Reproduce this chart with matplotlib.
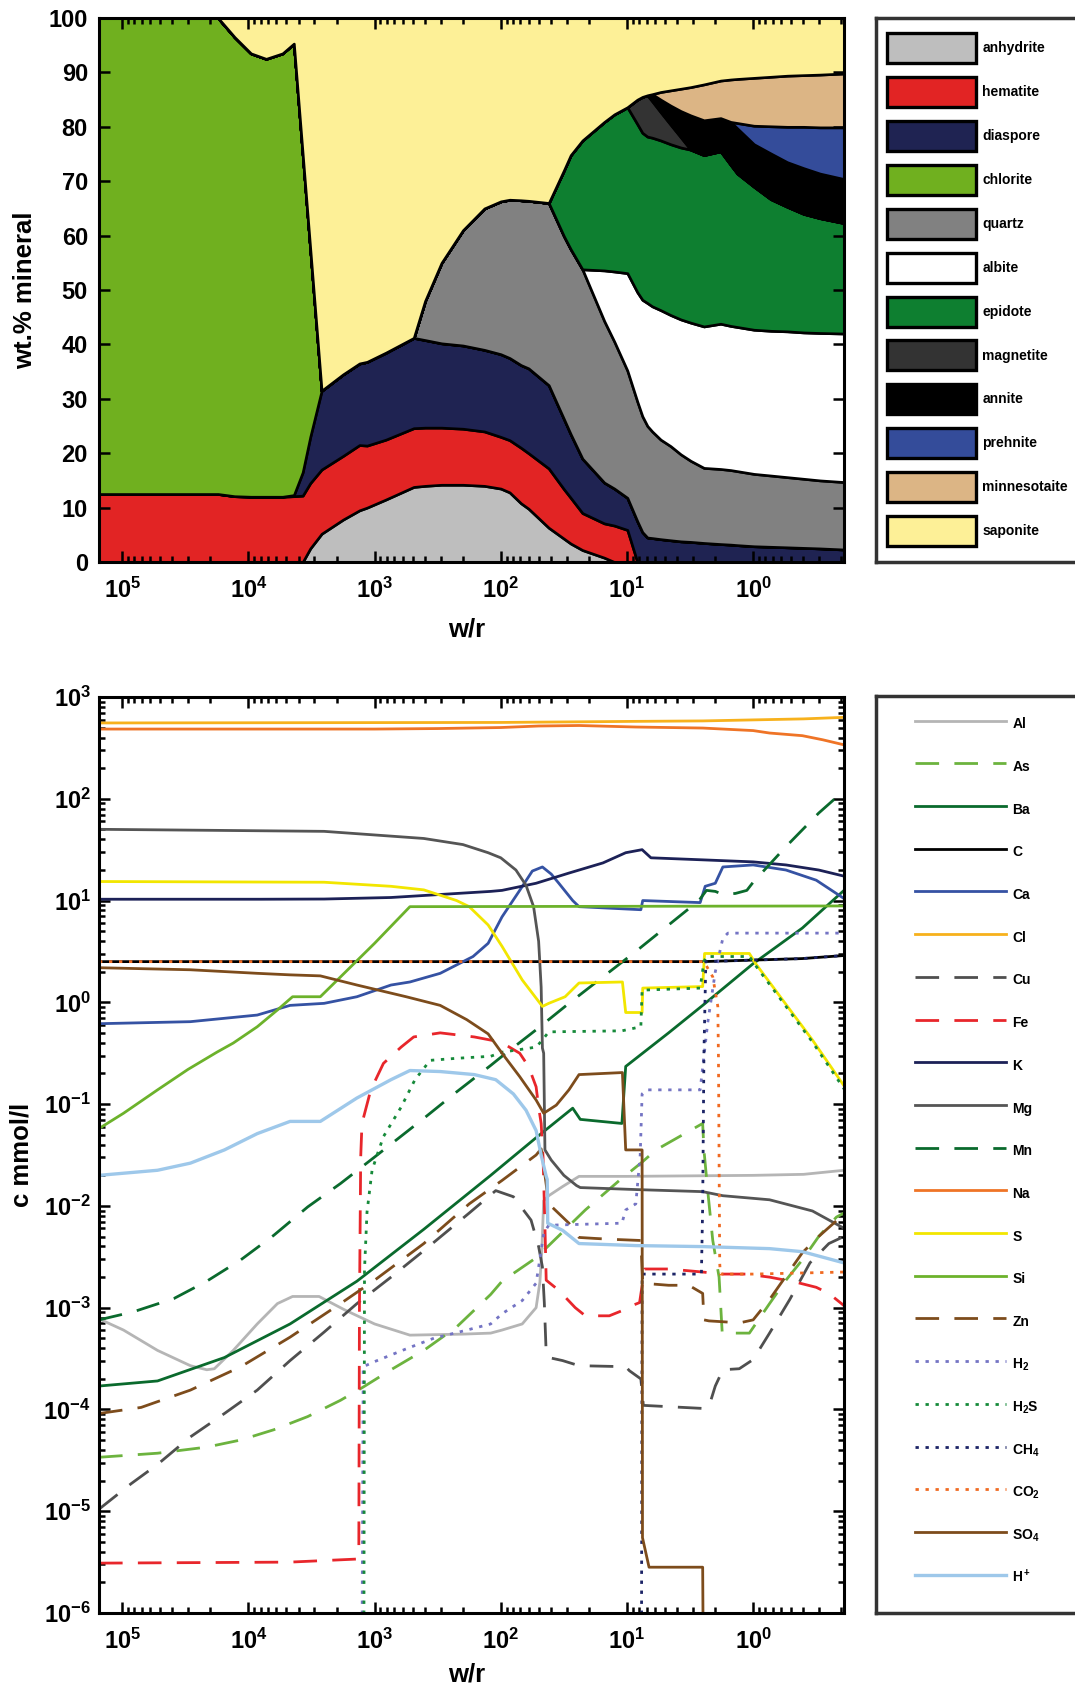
import numpy as np
import matplotlib
matplotlib.use("Agg")
import matplotlib.pyplot as plt
from matplotlib import font_manager
from matplotlib.font_manager import FontProperties
from matplotlib.patches import Patch
from matplotlib.ticker import LogLocator, NullLocator, NullFormatter, FuncFormatter


def find_family(names):
    for name in names:
        try:
            font_manager.findfont(FontProperties(family=name), fallback_to_default=False)
            return name
        except ValueError:
            continue
    return "DejaVu Sans"


NARROW = find_family(["Liberation Sans Narrow", "Liberation Sans"])
SANS = find_family(["Liberation Sans", "DejaVu Sans"])

plt.rcParams["font.family"] = [NARROW, "DejaVu Sans"]
plt.rcParams["font.weight"] = "bold"
plt.rcParams["mathtext.fontset"] = "custom"
plt.rcParams["mathtext.rm"] = SANS + ":bold"
plt.rcParams["mathtext.it"] = SANS + ":bold"
plt.rcParams["mathtext.bf"] = SANS + ":bold"
plt.rcParams["mathtext.sf"] = NARROW + ":bold"

# ---------------- minerals (upper edge of each stacked band, wt.%) ----------------
log_wr = [5.184, 4.24, 4.11, 3.98, 3.86, 3.73, 3.64, 3.57, 3.51, 3.42, 3.25, 3.12,
          3.06, 2.91, 2.69, 2.60, 2.47, 2.30, 2.13, 2.00, 1.93, 1.84, 1.78, 1.62,
          1.50, 1.446, 1.353, 1.18, 1.10, 0.997, 0.918, 0.878, 0.838, 0.80, 0.733,
          0.654, 0.574, 0.495, 0.39, 0.258, 0.178, 0.125, -0.006, -0.14, -0.27,
          -0.40, -0.53, -0.72]

top_anhydrite = [0, 0, 0, 0, 0, 0, 0, 0, 2.5, 5.2, 7.8, 9.5, 10.0, 11.5, 13.8, 14.0,
                 14.2, 14.2, 14.0, 13.5, 12.8, 10.8, 9.8, 6.3, 4.3, 3.4, 2.2, 0.8, 0.0,
                 0, 0, 0, 0, 0, 0, 0, 0, 0, 0, 0, 0, 0, 0, 0, 0, 0, 0, 0]
top_hematite = [12.5, 12.5, 12.1, 12.0, 12.0, 12.0, 12.1, 12.2, 14.5, 17.0, 19.5, 21.5,
                21.4, 22.5, 24.6, 24.7, 24.7, 24.5, 24.0, 23.0, 22.4, 21.0, 20.0, 17.2,
                13.4, 11.8, 9.0, 7.1, 6.7, 5.9, 0, 0, 0, 0, 0, 0, 0, 0, 0, 0, 0, 0, 0,
                0, 0, 0, 0, 0]
top_diaspore = [12.5, 12.5, 12.1, 12.0, 12.0, 12.0, 12.3, 16.5, 23.0, 31.5, 34.5, 36.5,
                36.8, 38.5, 41.2, 40.8, 40.2, 39.8, 39.0, 38.2, 37.5, 36.2, 35.6, 32.5,
                26.3, 23.5, 19.0, 14.6, 13.5, 11.8, 7.5, 5.5, 4.5, 4.4, 4.2, 4.0, 3.8,
                3.7, 3.5, 3.3, 3.2, 3.1, 2.9, 2.8, 2.7, 2.6, 2.5, 2.3]
top_chlorite = [100, 100, 96.5, 93.5, 92.5, 93.5, 95.3, 75.0, 57.6, 31.5, 34.5, 36.5,
                36.8, 38.5, 41.2, 40.8, 40.2, 39.8, 39.0, 38.2, 37.5, 36.2, 35.6, 32.5,
                26.3, 23.5, 19.0, 14.6, 13.5, 11.8, 7.5, 5.5, 4.5, 4.4, 4.2, 4.0, 3.8,
                3.7, 3.5, 3.3, 3.2, 3.1, 2.9, 2.8, 2.7, 2.6, 2.5, 2.3]
top_quartz = [100, 100, 96.5, 93.5, 92.5, 93.5, 95.3, 75.0, 57.6, 31.5, 34.5, 36.5,
              36.8, 38.5, 41.2, 48.0, 55.0, 61.0, 65.0, 66.3, 66.6, 66.5, 66.4, 66.0,
              59.9, 57.5, 53.8, 44.3, 40.5, 35.2, 29.5, 26.8, 25.0, 24.0, 22.5, 21.3,
              19.8, 18.6, 17.3, 17.1, 16.9, 16.7, 16.2, 15.9, 15.6, 15.3, 15.0, 14.7]
# upper edge shared by every band above quartz before epidote appears
front = [100, 100, 96.5, 93.5, 92.5, 93.5, 95.3, 75.0, 57.6, 31.5, 34.5, 36.5, 36.8,
         38.5, 41.2, 48.0, 55.0, 61.0, 65.0, 66.3, 66.6, 66.5, 66.4]
top_albite = front + [66.0, 59.9, 57.5, 53.8, 53.6, 53.4, 53.1, 49.6, 48.2, 47.6, 47.0,
                      46.3, 45.4, 44.6, 44.0, 43.3, 43.8, 43.4, 43.2, 42.7, 42.5, 42.4,
                      42.2, 42.1, 42.0]
top_epidote = front + [66.0, 72.0, 74.8, 77.5, 80.9, 82.3, 83.6, 80.5, 78.9, 78.2, 78.0,
                       77.5, 76.8, 76.2, 75.8, 74.8, 75.5, 73.0, 71.4, 69.0, 66.7, 65.3,
                       64.0, 63.2, 62.3]
top_magnetite = front + [66.0, 72.0, 74.8, 77.5, 80.9, 82.3, 83.6, 85.0, 85.5, 85.8,
                         84.7, 82.7, 80.4, 78.1, 75.8, 74.8, 75.5, 73.0, 71.4, 69.0,
                         66.7, 65.3, 64.0, 63.2, 62.3]
top_annite = front + [66.0, 72.0, 74.8, 77.5, 80.9, 82.3, 83.6, 85.0, 85.5, 85.8, 86.0,
                      85.0, 83.9, 82.9, 82.1, 81.2, 81.6, 80.9, 79.7, 76.8, 75.1, 73.5,
                      72.4, 71.4, 70.4]
top_prehnite = front + [66.0, 72.0, 74.8, 77.5, 80.9, 82.3, 83.6, 85.0, 85.5, 85.8, 86.0,
                        85.0, 83.9, 82.9, 82.1, 81.2, 81.6, 80.9, 80.7, 80.2, 80.1, 80.0,
                        80.0, 79.9, 79.9]
top_minnesotaite = front + [66.0, 72.0, 74.8, 77.5, 80.9, 82.3, 83.6, 85.0, 85.5, 85.8,
                            86.0, 86.4, 86.7, 87.0, 87.3, 87.8, 88.5, 88.7, 88.8, 89.0,
                            89.2, 89.4, 89.5, 89.6, 89.8]
top_saponite = [100] * len(log_wr)

minerals = ["anhydrite", "hematite", "diaspore", "chlorite", "quartz", "albite",
            "epidote", "magnetite", "annite", "prehnite", "minnesotaite", "saponite"]
mineral_colors = ["#bebebe", "#e22424", "#1f2352", "#70b01f", "#818181", "#ffffff",
                  "#0e7f30", "#333333", "#000000", "#344c9a", "#dcb585", "#fdf097"]

# ---------------- fluid composition (log10 w/r, log10 c in mmol/l) ----------------
al_x = [5.184, 4.99, 4.72, 4.46, 4.33, 4.27, 4.12, 3.93, 3.77, 3.65, 3.44, 3.24, 3.00,
        2.72, 2.30, 2.08, 1.99, 1.83, 1.72, 1.69, 1.675, 1.66, 1.62, 1.51, 1.38, 1.00,
        0.00, -0.40, -0.72]
al_y = [-3.11, -3.22, -3.42, -3.57, -3.61, -3.60, -3.42, -3.16, -2.96, -2.89, -2.89,
        -3.02, -3.16, -3.27, -3.26, -3.25, -3.22, -3.16, -3.00, -2.75, -2.45, -1.95,
        -1.90, -1.81, -1.71, -1.71, -1.70, -1.69, -1.65]
as_x = [5.184, 4.72, 4.33, 4.06, 3.80, 3.53, 3.27, 3.09, 2.87, 2.61, 2.35, 2.08, 1.99,
        1.72, 1.62, 1.33, 1.06, 0.88, 0.77, 0.40, 0.39, 0.36, 0.32, 0.27, 0.245, 0.03,
        -0.13, -0.26, -0.39, -0.52, -0.66, -0.72]
as_y = [-4.47, -4.43, -4.37, -4.30, -4.20, -4.07, -3.91, -3.78, -3.61, -3.42, -3.19,
        -2.87, -2.74, -2.51, -2.39, -2.04, -1.75, -1.57, -1.45, -1.19, -1.45, -1.85,
        -2.34, -2.70, -3.25, -3.25, -2.96, -2.73, -2.53, -2.30, -2.11, -2.07]
ba_x = [5.184, 4.72, 4.19, 3.67, 3.14, 2.61, 2.08, 1.72, 1.43, 1.37, 1.04, 1.01, 0.67,
        0.40, 0.00, -0.39, -0.72]
ba_y = [-3.77, -3.72, -3.49, -3.16, -2.74, -2.23, -1.70, -1.33, -1.04, -1.15, -1.19,
        -0.63, -0.30, -0.03, 0.38, 0.73, 1.10]
c_x = [5.184, 1.00, 0.40, 0.00, -0.39, -0.72]
c_y = [0.40, 0.40, 0.40, 0.415, 0.43, 0.46]
ca_x = [5.184, 4.46, 3.93, 3.67, 3.40, 3.14, 2.87, 2.72, 2.48, 2.22, 2.10, 1.99, 1.85,
        1.75, 1.67, 1.60, 1.54, 1.43, 1.38, 0.89, 0.875, 0.42, 0.38, 0.30, 0.24, 0.00,
        -0.26, -0.50, -0.72]
ca_y = [-0.21, -0.19, -0.125, -0.03, -0.01, 0.055, 0.17, 0.20, 0.285, 0.45, 0.58, 0.84,
        1.10, 1.29, 1.33, 1.26, 1.17, 1.00, 0.94, 0.91, 1.00, 0.98, 1.14, 1.17, 1.33,
        1.35, 1.30, 1.20, 1.02]
cl_x = [5.184, 2.0, 1.0, 0.4, 0.0, -0.4, -0.72]
cl_y = [2.745, 2.75, 2.76, 2.765, 2.775, 2.785, 2.80]
cu_x = [5.184, 4.93, 4.72, 4.46, 4.19, 3.93, 3.67, 3.40, 3.14, 2.87, 2.61, 2.25, 2.04,
        1.90, 1.76, 1.70, 1.67, 1.655, 1.64, 1.62, 1.51, 1.38, 1.01, 0.98, 0.89, 0.87,
        0.40, 0.35, 0.30, 0.24, 0.11, 0.00, -0.13, -0.29, -0.45, -0.60, -0.72]
cu_y = [-4.98, -4.73, -4.54, -4.27, -4.04, -3.81, -3.52, -3.24, -2.96, -2.70, -2.44,
        -2.07, -1.85, -1.91, -2.14, -2.40, -2.60, -2.95, -3.45, -3.49, -3.52, -3.57,
        -3.58, -3.62, -3.70, -3.96, -3.99, -3.97, -3.77, -3.61, -3.60, -3.51, -3.25,
        -2.92, -2.56, -2.37, -2.30]
fe_x = [5.184, 3.67, 3.14, 3.125, 3.12, 3.11, 3.10, 3.03, 2.93, 2.79, 2.69, 2.48, 2.21,
        2.00, 1.85, 1.78, 1.72, 1.70, 1.68, 1.665, 1.65, 1.64, 1.54, 1.41, 1.33, 1.14,
        1.04, 0.96, 0.90, 0.86, 0.67, 0.40, 0.24, 0.06, -0.13, -0.34, -0.50, -0.60, -0.72]
fe_y = [-5.51, -5.50, -5.47, -5.40, -3.00, -1.52, -1.19, -0.86, -0.60, -0.44, -0.34,
        -0.30, -0.34, -0.39, -0.50, -0.63, -0.83, -1.03, -1.19, -1.52, -2.20, -2.73,
        -2.83, -3.00, -3.08, -3.08, -3.03, -2.98, -2.95, -2.62, -2.62, -2.65, -2.67,
        -2.67, -2.70, -2.75, -2.80, -2.86, -2.98]
k_x = [5.184, 3.90, 3.40, 2.87, 2.08, 1.99, 1.72, 1.46, 1.19, 1.01, 0.88, 0.81, 0.40,
       0.00, -0.26, -0.52, -0.72]
k_y = [1.013, 1.013, 1.015, 1.03, 1.09, 1.10, 1.17, 1.27, 1.37, 1.47, 1.50, 1.42, 1.40,
       1.38, 1.35, 1.30, 1.24]
mg_x = [5.184, 3.40, 2.61, 2.30, 2.10, 2.00, 1.88, 1.80, 1.74, 1.70, 1.68, 1.67, 1.66,
        1.65, 1.60, 1.50, 1.40, 1.37, 0.92, 0.40, 0.24, -0.13, -0.47, -0.72]
mg_y = [1.70, 1.68, 1.61, 1.55, 1.47, 1.42, 1.30, 1.15, 0.94, 0.60, 0.15, -0.45, -0.50,
        -1.45, -1.55, -1.70, -1.80, -1.82, -1.84, -1.86, -1.90, -1.94, -2.05, -2.22]
mn_x = [5.184, 4.91, 4.59, 4.33, 4.06, 3.80, 3.53, 3.27, 3.00, 2.61, 2.35, 2.08, 1.99,
        1.72, 1.46, 1.19, 0.93, 0.67, 0.43, 0.37, 0.30, 0.24, 0.14, 0.05, 0.00, -0.26,
        -0.52, -0.72]
mn_y = [-3.12, -3.04, -2.91, -2.74, -2.53, -2.29, -2.01, -1.78, -1.52, -1.14, -0.88,
        -0.62, -0.53, -0.27, -0.01, 0.25, 0.50, 0.76, 1.00, 1.10, 1.09, 1.06, 1.07,
        1.10, 1.18, 1.53, 1.86, 2.08]
na_x = [5.184, 3.00, 2.50, 2.00, 1.70, 1.38, 0.93, 0.40, 0.00, -0.13, -0.39, -0.55, -0.72]
na_y = [2.685, 2.685, 2.69, 2.70, 2.715, 2.72, 2.705, 2.695, 2.67, 2.646, 2.62, 2.58, 2.53]
s_x = [5.184, 3.40, 2.87, 2.61, 2.35, 2.25, 2.10, 1.99, 1.83, 1.67, 1.62, 1.49, 1.38,
       1.036, 1.01, 0.88, 0.875, 0.40, 0.385, 0.03, -0.02, -0.47, -0.72]
s_y = [1.187, 1.18, 1.14, 1.105, 1.00, 0.94, 0.76, 0.55, 0.22, -0.04, -0.01, 0.055,
       0.19, 0.20, -0.10, -0.10, 0.14, 0.155, 0.48, 0.48, 0.38, -0.37, -0.82]
si_x = [5.184, 4.99, 4.72, 4.48, 4.25, 4.12, 3.93, 3.77, 3.65, 3.43, 3.27, 3.00, 2.72, -0.72]
si_y = [-1.24, -1.09, -0.86, -0.66, -0.49, -0.40, -0.24, -0.075, 0.055, 0.055, 0.25,
        0.58, 0.94, 0.947]
zn_x = [5.184, 4.85, 4.46, 4.06, 3.67, 3.27, 3.00, 2.61, 2.25, 1.99, 1.72, 1.68, 1.66,
        1.62, 1.46, 1.38, 1.25, 1.09, 0.89, 0.875, 0.67, 0.51, 0.40, 0.39, 0.35, 0.22,
        0.11, 0.00, -0.13, -0.26, -0.39, -0.52, -0.72]
zn_y = [-4.04, -3.98, -3.81, -3.58, -3.29, -2.96, -2.73, -2.37, -1.98, -1.75, -1.50,
        -1.44, -1.60, -1.98, -2.17, -2.31, -2.32, -2.33, -2.34, -2.76, -2.78, -2.78,
        -2.86, -3.12, -3.13, -3.14, -3.15, -3.12, -2.92, -2.69, -2.46, -2.30, -2.08]
h2_x = [3.10, 3.09, 3.00, 2.74, 2.53, 2.30, 2.08, 1.99, 1.83, 1.72, 1.68, 1.66, 1.62,
        1.04, 1.01, 0.93, 0.895, 0.88, 0.84, 0.42, 0.36, 0.30, 0.24, 0.20, -0.72]
h2_y = [-6.5, -3.58, -3.53, -3.40, -3.30, -3.23, -3.16, -3.06, -2.93, -2.76, -2.44,
        -2.27, -2.19, -2.17, -2.04, -1.98, -1.50, -0.90, -0.86, -0.86, -0.20, 0.30,
        0.63, 0.68, 0.68]
h2s_x = [3.085, 3.08, 3.06, 3.02, 2.98, 2.93, 2.79, 2.68, 2.56, 2.35, 2.08, 1.99, 1.72,
         1.67, 1.62, 1.04, 0.89, 0.88, 0.42, 0.39, 0.37, 0.03, -0.02, -0.47, -0.72]
h2s_y = [-6.5, -2.63, -2.06, -1.65, -1.50, -1.32, -1.03, -0.76, -0.57, -0.55, -0.53,
         -0.49, -0.44, -0.37, -0.29, -0.28, -0.24, 0.12, 0.14, 0.40, 0.45, 0.45, 0.36,
         -0.39, -0.85]
ch4_x = [0.885, 0.88, 0.41, 0.40, 0.39, 0.375, 0.00, -0.39, -0.72]
ch4_y = [-6.5, -2.67, -2.67, -2.00, -0.50, 0.40, 0.415, 0.43, 0.46]
co2_x = [5.184, 0.39, 0.32, 0.28, 0.275, 0.27, 0.265, 0.26, 0.00, -0.72]
co2_y = [0.40, 0.40, 0.25, -0.04, -0.53, -1.52, -2.56, -2.67, -2.67, -2.65]
so4_x = [5.184, 4.46, 3.93, 3.67, 3.43, 3.14, 2.75, 2.48, 2.27, 2.10, 1.99, 1.85, 1.72,
         1.66, 1.56, 1.46, 1.38, 1.036, 1.01, 0.88, 0.877, 0.825, 0.40, 0.395]
so4_y = [0.34, 0.32, 0.285, 0.27, 0.26, 0.17, 0.055, -0.03, -0.17, -0.31, -0.50, -0.73,
         -0.96, -1.09, -1.01, -0.86, -0.71, -0.69, -1.45, -1.45, -5.26, -5.55, -5.55, -6.5]
hplus_x = [5.184, 4.72, 4.46, 4.19, 3.93, 3.67, 3.43, 3.14, 2.87, 2.72, 2.48, 2.21, 2.04,
           1.90, 1.80, 1.72, 1.68, 1.64, 1.632, 1.628, 1.51, 1.38, 0.93, 0.40, -0.13,
           -0.39, -0.72]
hplus_y = [-1.70, -1.65, -1.58, -1.45, -1.29, -1.17, -1.17, -0.94, -0.76, -0.67, -0.68,
           -0.71, -0.76, -0.90, -1.06, -1.26, -1.50, -1.71, -1.74, -2.17, -2.24, -2.37,
           -2.39, -2.40, -2.42, -2.45, -2.56]

DASH = (0, (8.5, 5.5))
DOT = (0, (1.2, 2.4))
species = [
    ("Al", al_x, al_y, "#b5b5b5", "-"),
    ("As", as_x, as_y, "#6cb33e", DASH),
    ("Ba", ba_x, ba_y, "#0a6a2d", "-"),
    ("C", c_x, c_y, "#000000", "-"),
    ("Ca", ca_x, ca_y, "#3552a3", "-"),
    ("Cl", cl_x, cl_y, "#f7b11c", "-"),
    ("Cu", cu_x, cu_y, "#4f4f4f", DASH),
    ("Fe", fe_x, fe_y, "#e8262b", DASH),
    ("K", k_x, k_y, "#1c2157", "-"),
    ("Mg", mg_x, mg_y, "#555555", "-"),
    ("Mn", mn_x, mn_y, "#0a6a2d", DASH),
    ("Na", na_x, na_y, "#ef7426", "-"),
    ("S", s_x, s_y, "#f2e600", "-"),
    ("Si", si_x, si_y, "#6cb22b", "-"),
    ("Zn", zn_x, zn_y, "#7d4c1c", DASH),
    ("H$_2$", h2_x, h2_y, "#7474c4", DOT),
    ("H$_2$S", h2s_x, h2s_y, "#168a3a", DOT),
    ("CH$_4$", ch4_x, ch4_y, "#1c2466", DOT),
    ("CO$_2$", co2_x, co2_y, "#f06a22", DOT),
    ("SO$_4$", so4_x, so4_y, "#7d4c1c", "-"),
    ("H$^+$", hplus_x, hplus_y, "#9ec8ea", "-"),
]

# ---------------- layout ----------------
W, H = 1075, 1692
fig = plt.figure(figsize=(W / 100, H / 100), dpi=100)


def box(left, top, right, bottom):
    return [left / W, 1 - bottom / H, (right - left) / W, (bottom - top) / H]


ax_min = fig.add_axes(box(99, 18, 844, 562))
ax_sol = fig.add_axes(box(99, 697, 844, 1613))
leg_min = fig.add_axes(box(876, 18, 1095, 562))
leg_sol = fig.add_axes(box(876, 696, 1095, 1613))

XLIM = (10 ** 5.184, 10 ** -0.72)
TICK_SIZE = 17
LABEL_FONT = dict(family=SANS, weight="bold", size=18.5)


def decade_label(value, pos):
    return r"$\mathsf{10^{%d}}$" % int(round(np.log10(value)))


def style_axes(ax, log_y):
    ax.set_xscale("log")
    ax.set_xlim(*XLIM)
    ax.xaxis.set_major_locator(LogLocator(base=10, numticks=20))
    ax.xaxis.set_minor_locator(LogLocator(base=10, subs=np.arange(2, 10), numticks=20))
    ax.xaxis.set_major_formatter(FuncFormatter(decade_label))
    ax.xaxis.set_minor_formatter(NullFormatter())
    if log_y:
        ax.yaxis.set_major_locator(LogLocator(base=10, numticks=20))
        ax.yaxis.set_minor_locator(LogLocator(base=10, subs=np.arange(2, 10), numticks=20))
        ax.yaxis.set_major_formatter(FuncFormatter(decade_label))
        ax.yaxis.set_minor_formatter(NullFormatter())
    for sp in ax.spines.values():
        sp.set_linewidth(2.2)
    ax.tick_params(which="both", direction="in", top=True, right=True, width=1.8,
                   labelsize=TICK_SIZE)
    ax.tick_params(which="major", length=8)
    ax.tick_params(which="minor", length=4.5)
    ax.tick_params(axis="x", which="major", pad=11)
    ax.tick_params(axis="y", which="major", pad=6)


# ---- top: stacked mineral assemblage ----
wr = 10.0 ** np.array(log_wr)
uppers = np.array([top_anhydrite, top_hematite, top_diaspore, top_chlorite, top_quartz,
                   top_albite, top_epidote, top_magnetite, top_annite, top_prehnite,
                   top_minnesotaite, top_saponite], dtype=float)
lowers = np.vstack([np.zeros(len(wr)), uppers[:-1]])
amounts = np.clip(uppers - lowers, 0, None)
ax_min.stackplot(wr, amounts, colors=mineral_colors, edgecolor="black", linewidth=1.9)
style_axes(ax_min, log_y=False)
ax_min.set_ylim(0, 100)
ax_min.set_yticks(range(0, 101, 10))
ax_min.yaxis.set_minor_locator(NullLocator())
ax_min.tick_params(axis="y", which="major", pad=8)
ax_min.set_ylabel("wt.% mineral", **LABEL_FONT)
ax_min.yaxis.label.set_va("center")
ax_min.yaxis.set_label_coords(-0.099, 0.5)
ax_min.set_xlabel("w/r", **LABEL_FONT)
ax_min.xaxis.label.set_va("center")
ax_min.xaxis.set_label_coords(0.493, -0.124)

# ---- bottom: fluid concentrations ----
lines = []
for name, xs, ys, color, style in species:
    lw = 2.4 if name == "H$^+$" else 2.0
    ln, = ax_sol.plot(10.0 ** np.array(xs), 10.0 ** np.array(ys), color=color,
                      linestyle=style, linewidth=lw, label=name)
    lines.append(ln)
ax_sol.set_yscale("log")
style_axes(ax_sol, log_y=True)
ax_sol.set_ylim(1e-6, 1e3)
ax_sol.set_ylabel("c mmol/l", **LABEL_FONT)
ax_sol.yaxis.label.set_va("center")
ax_sol.yaxis.set_label_coords(-0.104, 0.5)
ax_sol.set_xlabel("w/r", **LABEL_FONT)
ax_sol.xaxis.label.set_va("center")
ax_sol.xaxis.set_label_coords(0.493, -0.067)

# ---- legend boxes ----
for lax in (leg_min, leg_sol):
    lax.set_xticks([])
    lax.set_yticks([])
    for sp in lax.spines.values():
        sp.set_linewidth(2.5)
        sp.set_color("#333333")

legend_font = dict(family=SANS, weight="bold", size=10)
patches = [Patch(facecolor=c, edgecolor="black", linewidth=2.4) for c in mineral_colors]
leg_min.legend(patches, minerals, loc="upper left", bbox_to_anchor=(11 / 219, 1 - 15 / 544),
               frameon=False, borderpad=0, borderaxespad=0, handlelength=6.4,
               handleheight=2.95, labelspacing=1.0, handletextpad=0.45, prop=legend_font)
leg_sol.legend(lines, [s[0] for s in species], loc="upper left",
               bbox_to_anchor=(39 / 219, 1 - 17 / 917), frameon=False, borderpad=0,
               borderaxespad=0, handlelength=6.55, handleheight=2.0, labelspacing=1.53,
               handletextpad=0.45, prop=legend_font)

fig.savefig("out.png", dpi=100)
